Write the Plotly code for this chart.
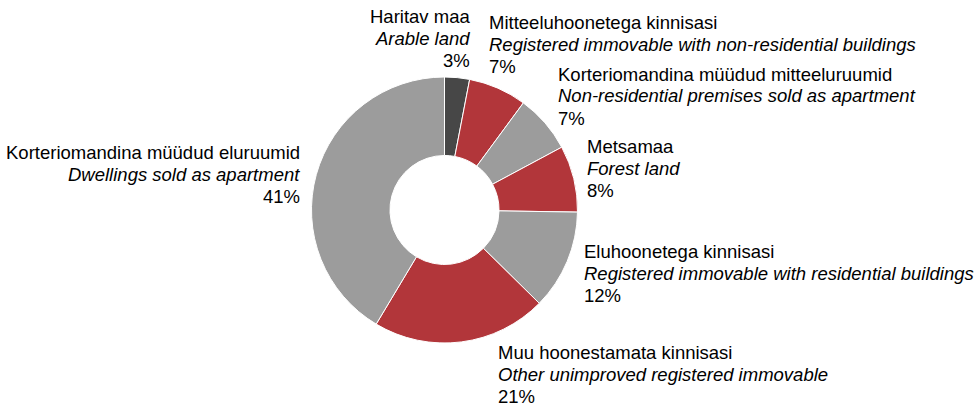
import plotly.graph_objects as go

# Transaction shares by property type (Estonian / English)
names_et = [
    "Haritav maa",
    "Mitteeluhoonetega kinnisasi",
    "Korteriomandina müüdud mitteeluruumid",
    "Metsamaa",
    "Eluhoonetega kinnisasi",
    "Muu hoonestamata kinnisasi",
    "Korteriomandina müüdud eluruumid",
]
names_en = [
    "Arable land",
    "Registered immovable with non-residential buildings",
    "Non-residential premises sold as apartment",
    "Forest land",
    "Registered immovable with residential buildings",
    "Other unimproved registered immovable",
    "Dwellings sold as apartment",
]
shares = [3, 7, 7, 8, 12, 21, 41]
colors = ["#474747", "#B2363A", "#9C9C9C", "#B2363A", "#9C9C9C", "#B2363A", "#9C9C9C"]

# Label block placement in pixels: (x, first-line y, anchor)
label_pos = [
    (472, 17, "right"),
    (487, 23, "left"),
    (556, 74, "left"),
    (585, 146, "left"),
    (582, 251, "left"),
    (496, 352, "left"),
    (302, 152, "right"),
]

W, H = 976, 407
cx, cy, r = 444.5, 210, 133
line_gap = 22
font = dict(family="Liberation Sans, Arial, sans-serif", size=18.5, color="#000000")

fig = go.Figure(
    go.Pie(
        labels=names_et,
        values=shares,
        sort=False,
        direction="clockwise",
        rotation=0,
        hole=0.41,
        marker=dict(colors=colors, line=dict(color="#FFFFFF", width=1)),
        textinfo="none",
        hoverinfo="label+percent",
        domain=dict(
            x=[(cx - r) / W, (cx + r) / W],
            y=[1 - (cy + r) / H, 1 - (cy - r) / H],
        ),
        showlegend=False,
    )
)

annotations = []
for et, en, v, (px, py, anchor) in zip(names_et, names_en, shares, label_pos):
    lines = [et, f"<i>{en}</i>", f"{v}%"]
    for i, txt in enumerate(lines):
        annotations.append(
            dict(
                x=px / W,
                y=1 - (py + i * line_gap) / H,
                xref="paper",
                yref="paper",
                xanchor=anchor,
                yanchor="middle",
                align=anchor,
                text=txt,
                showarrow=False,
                font=font,
            )
        )

fig.update_layout(
    width=W,
    height=H,
    margin=dict(l=0, r=0, t=0, b=0),
    paper_bgcolor="#FFFFFF",
    plot_bgcolor="#FFFFFF",
    annotations=annotations,
)

fig.write_html("out.html")
